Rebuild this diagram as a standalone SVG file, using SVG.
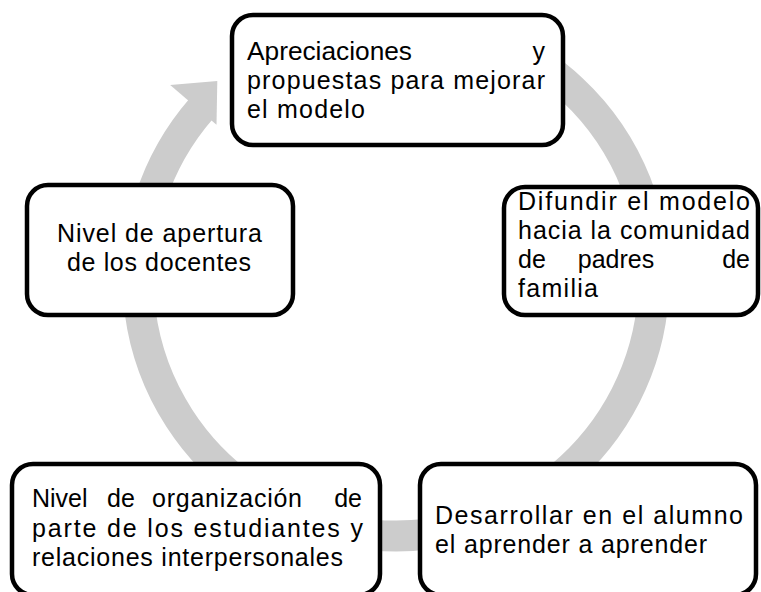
<svg xmlns="http://www.w3.org/2000/svg" width="761" height="592" viewBox="0 0 761 592">
  <style>
    .box { fill: #ffffff; stroke: #000000; stroke-width: 4.5; }
    .t { font-family: "Liberation Sans", Arial, sans-serif; font-size: 25px; fill: #000000; }
    .ring { fill: none; stroke: #cccccc; stroke-width: 31; }
    .head { fill: #cccccc; }
  </style>
  <rect x="0" y="0" width="761" height="592" fill="#ffffff"/>
  <g id="connectors">
    <path class="ring" d="M 484.2 35.6 A 258 258 0 1 1 201.3 108.7"/>
    <polygon class="head" points="170.2,85.1 217.3,80.9 216.5,124.7"/>
  </g>
  <g id="node-apreciaciones">
    <rect class="box" x="232" y="15" width="331" height="130" rx="21"/>
    <text class="t" x="247" y="60" textLength="165" lengthAdjust="spacingAndGlyphs">Apreciaciones</text>
    <text class="t" x="545" y="60" text-anchor="end">y</text>
    <text class="t" x="247" y="89" textLength="298" lengthAdjust="spacing">propuestas para mejorar</text>
    <text class="t" x="247" y="118" textLength="118" lengthAdjust="spacing">el modelo</text>
  </g>
  <g id="node-difundir">
    <rect class="box" x="504" y="187" width="254" height="128" rx="21"/>
    <text class="t" x="518" y="210" textLength="232" lengthAdjust="spacing">Difundir el modelo</text>
    <text class="t" x="518" y="239" textLength="232" lengthAdjust="spacing">hacia la comunidad</text>
    <text class="t" x="518" y="268">de</text>
    <text class="t" x="616" y="268" text-anchor="middle">padres</text>
    <text class="t" x="750" y="268" text-anchor="end">de</text>
    <text class="t" x="518" y="297" textLength="80" lengthAdjust="spacing">familia</text>
  </g>
  <g id="node-apertura">
    <rect class="box" x="27" y="185" width="266" height="130" rx="21"/>
    <text class="t" x="57" y="242" textLength="205" lengthAdjust="spacing">Nivel de apertura</text>
    <text class="t" x="67" y="271" textLength="184" lengthAdjust="spacing">de los docentes</text>
  </g>
  <g id="node-organizacion">
    <rect class="box" x="12" y="464" width="368" height="131" rx="21"/>
    <text class="t" x="32" y="507">Nivel</text>
    <text class="t" x="107" y="507">de</text>
    <text class="t" x="152" y="507" textLength="150" lengthAdjust="spacing">organización</text>
    <text class="t" x="362" y="507" text-anchor="end">de</text>
    <text class="t" x="32" y="537" textLength="331" lengthAdjust="spacing">parte de los estudiantes y</text>
    <text class="t" x="32" y="566" textLength="311" lengthAdjust="spacing">relaciones interpersonales</text>
  </g>
  <g id="node-desarrollar">
    <rect class="box" x="420" y="464" width="336" height="131" rx="21"/>
    <text class="t" x="435" y="524" textLength="308" lengthAdjust="spacing">Desarrollar en el alumno</text>
    <text class="t" x="435" y="553" textLength="272" lengthAdjust="spacing">el aprender a aprender</text>
  </g>
</svg>
